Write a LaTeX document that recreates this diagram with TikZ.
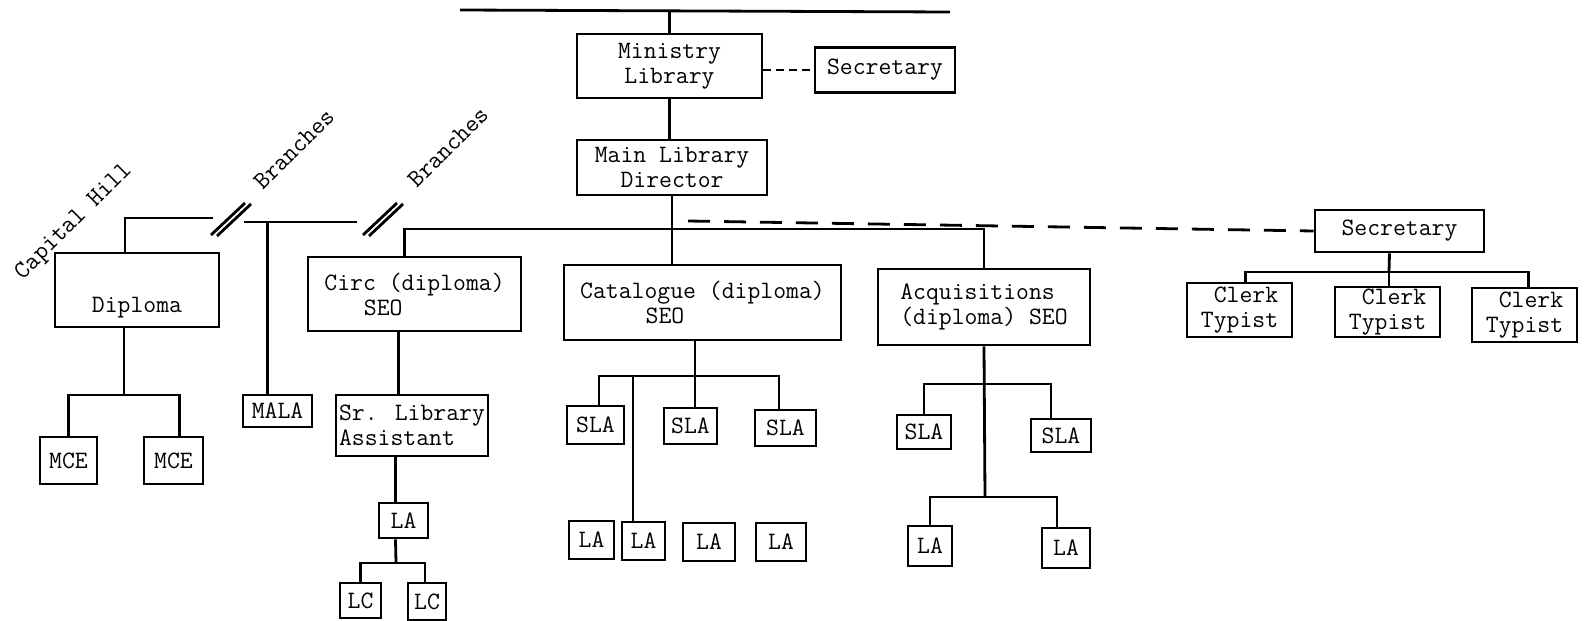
\documentclass[tikz,border=0pt]{standalone}
\usetikzlibrary{positioning, calc}

\begin{document}
\begin{tikzpicture}[x=0.5pt, y=-0.5pt, line width=1.4pt,
  block/.style={draw, inner sep=0pt, align=center, font=\ttfamily\fontsize{12.5}{12.5}\selectfont},
  sz/.style 2 args={minimum width=#1*0.5pt, minimum height=#2*0.5pt},
  tag/.style={rotate=45, font=\ttfamily\fontsize{12.5}{12.5}\selectfont},
  nearline/.style={dash pattern=on 4pt off 2.5pt},
  farline/.style={dash pattern=on 11pt off 7pt}]
\fill[white] (0,0) rectangle (1587,621);
\useasboundingbox (0,0) rectangle (1587,621);
% top of the tree
\node[block, sz={185}{64}] (min) at (669.5,66) {Ministry\\Library};
\node[block, sz={140}{45}] (sec1) at (885,70) {Secretary};
\node[block, sz={190}{55}] (dir) at (672,167.5) {Main Library\\Director};
\node[block, sz={169}{42}] (sec2) at (1399.5,231) {Secretary};
% sections
\node[block, sz={164}{74}, text height=22pt, text depth=0pt] (dip) at (137,290) {Diploma};
\node[block, sz={213}{74}] (circ) at (414.5,294) {Circ (diploma)\\SEO\hspace*{2.5em}};
\node[block, sz={277}{75}] (cat) at (702.5,302.5) {Catalogue (diploma)\\SEO\hspace*{3em}};
\node[block, sz={212}{76}, align=left] (acq) at (984,307) {Acquisitions\\(diploma) SEO};
\node[block, sz={105}{54}, align=right] (c1) at (1239.5,310) {Clerk\\Typist};
\node[block, sz={105}{50}, align=right] (c2) at (1387.5,312) {Clerk\\Typist};
\node[block, sz={105}{54}, align=right] (c3) at (1524.5,315) {Clerk\\Typist};
% staff
\node[block, sz={57}{47}] (mce1) at (68.5,460.5) {MCE};
\node[block, sz={59}{47}] (mce2) at (173.5,460.5) {MCE};
\node[block, sz={69}{32}] (mala) at (277.5,411) {MALA};
\node[block, sz={152}{61}, align=left] (sr) at (412,425.5) {Sr. Library\\Assistant};
\node[block, sz={49}{35}] (la0) at (403.5,520.5) {LA};
\node[block, sz={41}{35}] (lc1) at (360.5,600.5) {LC};
\node[block, sz={38}{37}] (lc2) at (427,601.5) {LC};
\node[block, sz={57}{38}] (sla1) at (595.5,425) {SLA};
\node[block, sz={53}{36}] (sla2) at (690.5,426) {SLA};
\node[block, sz={61}{36}] (sla3) at (785.5,428) {SLA};
\node[block, sz={45}{38}] (la1) at (591.5,540) {LA};
\node[block, sz={43}{38}] (la2) at (643.5,541) {LA};
\node[block, sz={52}{38}] (la3) at (709,542) {LA};
\node[block, sz={50}{38}] (la4) at (781,542) {LA};
\node[block, sz={54}{34}] (asla1) at (924,432) {SLA};
\node[block, sz={60}{33}] (asla2) at (1061,435.5) {SLA};
\node[block, sz={44}{40}] (ala1) at (930,546) {LA};
\node[block, sz={48}{40}] (ala2) at (1066,548) {LA};
% slanted labels
\node[tag] (hill) at (74,222) {Capital Hill};
\node[tag] (br1) at (294,149) {Branches};
\node[tag] (br2) at (448,147) {Branches};
% connectors
\coordinate (topL) at (460,10); \coordinate (topR) at (950,12);
\draw[-] (topL) -- (topR);
\draw[-] (min.north) -- (min.north |- topL);
\draw[-, nearline] (min.east |- sec1.west) -- (sec1.west);
\draw[-] (min.south) -- (min.south |- dir.north);
\coordinate (bar) at (672,229);
\draw[-] (dir.south) -- (dir.south |- cat.north);
\draw[-] ([xshift=-5pt]circ.north) |- (bar) -| (acq.north);
\coordinate (dstart) at (688,221);
\draw[-, farline] (dstart) -- (sec2.west);
\coordinate (cj) at (1389,272);
\draw[-] ([xshift=-5pt]sec2.south) -- (cj);
\draw[-] ([xshift=3pt]c1.north) |- (cj) -| ([xshift=2pt]c3.north);
\draw[-] (cj) -- (cj |- c2.north);
% branches on the left
\coordinate (brk1) at (213,218); \coordinate (brk2) at (244,222); \coordinate (brk3) at (357,222);
\draw[-] ([xshift=-6pt]dip.north) |- (brk1);
\draw[-] (brk2) -- (brk3);
\draw[-] ([xshift=-5pt]mala.north) -- ([xshift=-5pt]mala.north |- brk2);
\foreach \sx in {211,363} {
  \draw[-] (\sx,235) -- ++(34,-32);
  \draw[-] (\sx+6,236) -- ++(34,-32);
}
\coordinate (dj) at (124,395);
\draw[-] ([xshift=-6.5pt]dip.south) -- (dj);
\draw[-] (mce1.north) |- (dj) -| ([xshift=3pt]mce2.north);
% circulation
\draw[-] ([xshift=-8pt]circ.south) -- ([xshift=-8pt]circ.south |- sr.north);
\draw[-] ([xshift=-4pt]la0.north) -- ([xshift=-4pt]la0.north |- sr.south);
\coordinate (lcj) at (396,563);
\draw[-] ([xshift=-4pt]la0.south) -- (lcj);
\draw[-] (lc1.north) |- (lcj) -| ([xshift=-1pt]lc2.north);
% catalogue
\coordinate (slaj) at (695,376);
\draw[-] ([xshift=-3.75pt]cat.south) -- (slaj);
\draw[-] ([xshift=1.75pt]sla1.north) |- (slaj) -| ([xshift=-3.25pt]sla3.north);
\draw[-] (slaj) -- (slaj |- sla2.north);
\draw[-] ([xshift=-5.25pt]la2.north) -- ([xshift=-5.25pt]la2.north |- slaj);
% acquisitions
\coordinate (aj1) at (985,384); \coordinate (aj2) at (985,497);
\draw[-] (acq.south) -- (aj2);
\draw[-] (asla1.north) |- (aj1) -| ([xshift=-5pt]asla2.north);
\draw[-] (ala1.north) |- (aj2) -| ([xshift=-4.5pt]ala2.north);
\end{tikzpicture}
\end{document}
